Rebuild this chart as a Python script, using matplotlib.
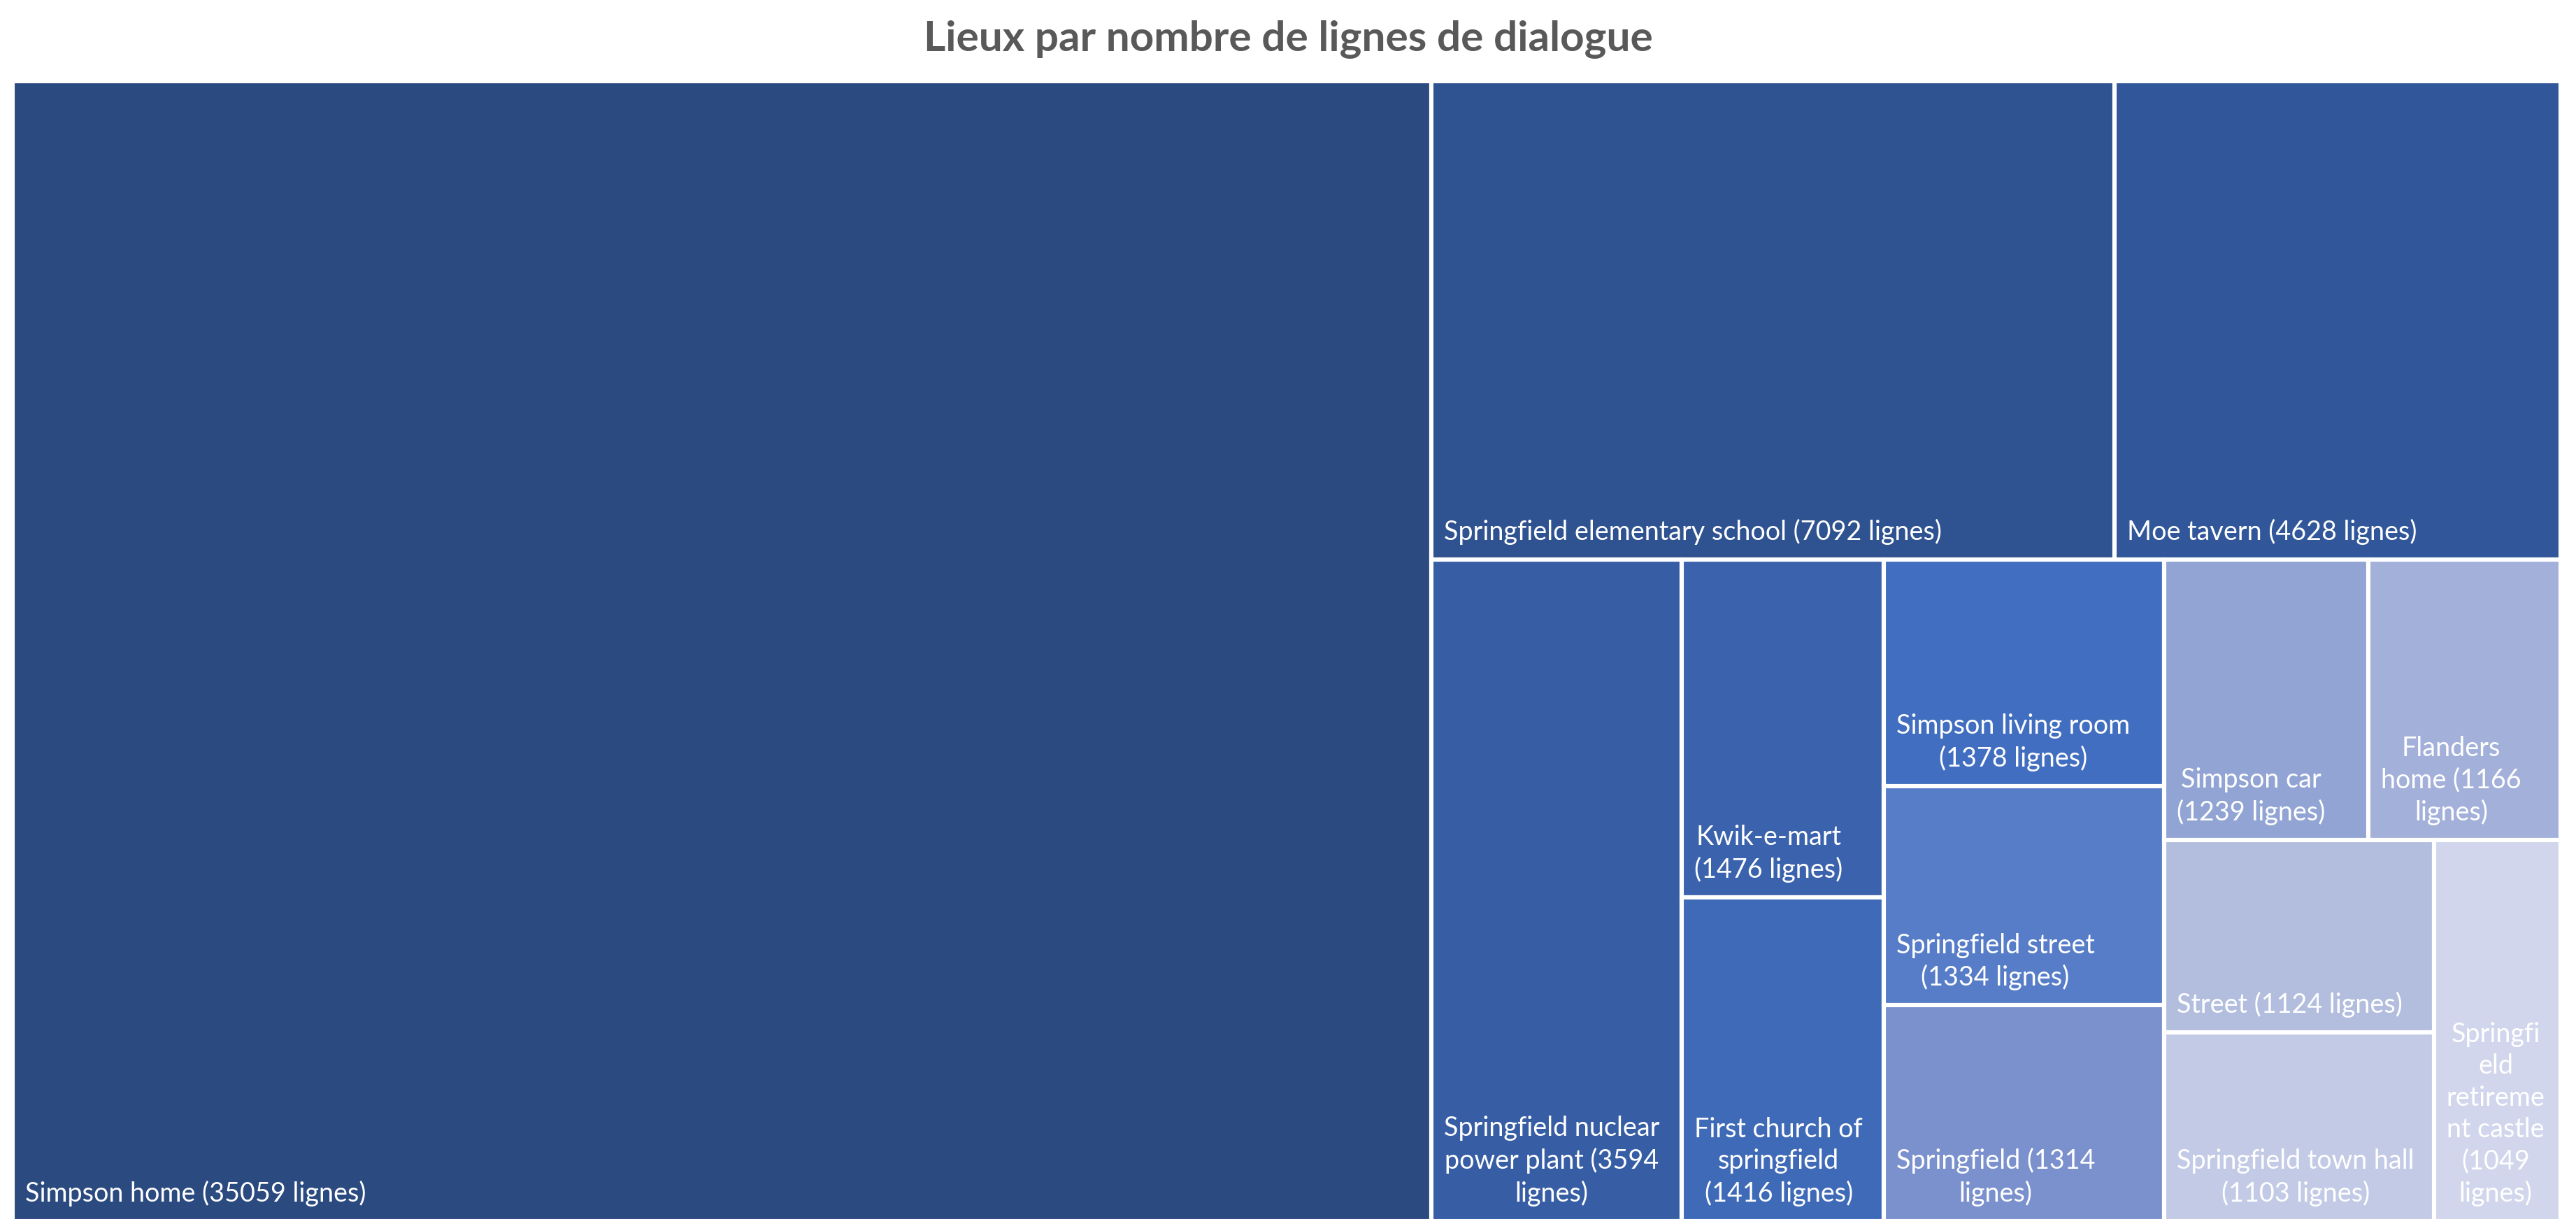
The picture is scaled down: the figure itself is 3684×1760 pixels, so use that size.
import matplotlib
matplotlib.use("Agg")
import matplotlib.pyplot as plt
from matplotlib.patches import Rectangle
from matplotlib.font_manager import FontProperties

# Lieux et nombre de lignes de dialogue
lieux = ["Simpson home", "Springfield elementary school", "Moe tavern",
         "Springfield nuclear power plant", "Kwik-e-mart", "First church of springfield",
         "Simpson living room", "Springfield street", "Springfield", "Simpson car",
         "Flanders home", "Street", "Springfield town hall", "Springfield retirement castle"]
lignes = [35059, 7092, 4628, 3594, 1476, 1416, 1378, 1334, 1314, 1239, 1166, 1124, 1103, 1049]

# palette monochrome bleue (du plus foncé au plus clair)
couleurs = ["#2B4A7F", "#2F5290", "#31579A", "#375EA5", "#3B63AD", "#3F6AB8", "#416EC0",
            "#577DC8", "#7A91CE", "#91A4D4", "#A3B0D9", "#B3BEDF", "#C3CAE6", "#D1D6EC"]

titre = "Lieux par nombre de lignes de dialogue"

dpi = 200
fig = plt.figure(figsize=(3684 / dpi, 1760 / dpi), dpi=dpi)
ax = fig.add_axes([18 / 3684, 14 / 1760, 3644 / 3684, 1630 / 1760])
pos = ax.get_position()
W = pos.width * fig.get_figwidth() * dpi
H = pos.height * fig.get_figheight() * dpi
ax.set_xlim(0, W)
ax.set_ylim(H, 0)
ax.set_axis_off()


def cout(w, h):
    # les tuiles larges sont plus penalisees que les tuiles hautes (comme Excel)
    return (w / h) ** 2 if w >= h else h / w


def bande(vals, x, y, w, h, reste):
    s = sum(vals)
    rects = []
    if w >= h:  # colonne a gauche
        t = w * s / reste
        yy = y
        for v in vals:
            hh = h * v / s
            rects.append((x, yy, t, hh))
            yy += hh
    else:  # ligne en haut
        t = h * s / reste
        xx = x
        for v in vals:
            ww = w * v / s
            rects.append((xx, y, ww, t))
            xx += ww
    return rects


def treemap(vals, x, y, w, h):
    rects = []
    i = 0
    while i < len(vals):
        reste = sum(vals[i:])
        n = 1
        cur = bande(vals[i:i + 1], x, y, w, h, reste)
        pire = max(cout(r[2], r[3]) for r in cur)
        while i + n < len(vals):
            cand = bande(vals[i:i + n + 1], x, y, w, h, reste)
            p = max(cout(r[2], r[3]) for r in cand)
            if p > pire:
                break
            cur, pire, n = cand, p, n + 1
        rects += cur
        if w >= h:
            x += cur[0][2]
            w -= cur[0][2]
        else:
            y += cur[0][3]
            h -= cur[0][3]
        i += n
    return rects


renderer = fig.canvas.get_renderer()


def largeur(s, fp):
    return renderer.get_text_width_height_descent(s, fp, ismath=False)[0]


def couper(texte, fp, maxw):
    lignes_txt, cur = [], ""
    for mot in texte.split(" "):
        essai = mot if not cur else cur + " " + mot
        if largeur(essai, fp) <= maxw:
            cur = essai
            continue
        if cur:
            lignes_txt.append(cur)
        cur = mot
        while largeur(cur, fp) > maxw:
            k = len(cur)
            while k > 1 and largeur(cur[:k], fp) > maxw:
                k -= 1
            lignes_txt.append(cur[:k])
            cur = cur[k:]
    if cur:
        lignes_txt.append(cur)
    return "\n".join(lignes_txt)


fp = FontProperties(family="Lato", size=13.6)

for (x, y, w, h), nom, n, c in zip(treemap(lignes, 0, 0, W, H), lieux, lignes, couleurs):
    ax.add_patch(Rectangle((x, y), w, h, facecolor=c, edgecolor="white", linewidth=2.2))
    texte = couper(f"{nom} ({n} lignes)", fp, w - 38)
    ax.text(x + 18, y + h - 21, texte, fontproperties=fp, color="white",
            ha="left", va="bottom", multialignment="center", linespacing=1.32)

fig.text(0.5, 1 - 56 / 1760, titre, ha="center", va="center", fontsize=21.7,
         fontweight="bold", color="#595959", family="Lato")

fig.savefig("out.png", dpi=dpi)
